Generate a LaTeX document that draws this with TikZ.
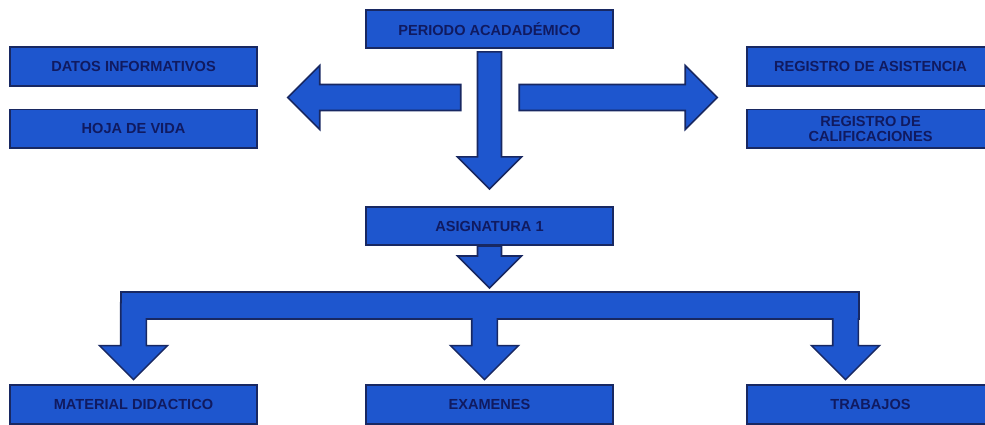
\documentclass[tikz,border=0pt]{standalone}
\usepackage{fontspec}
\setmainfont{Liberation Sans}
\usetikzlibrary{positioning, calc}
\definecolor{boxblue}{RGB}{30,86,206}
\definecolor{boxedge}{RGB}{24,40,98}
\definecolor{boxtext}{RGB}{16,26,96}
\tikzset{
    box/.style={ % blue boxes with dark border
        draw=boxedge, fill=boxblue, line width=0.9pt,
        minimum width=4.94cm, minimum height=0.77cm,
        inner sep=1pt, align=center, text=boxtext,
        font=\fontsize{8.3}{8.6}\selectfont\bfseries
    },
    blk/.style={fill=boxblue, draw=boxedge, line width=0.9pt}, % block arrows
    pics/blkarrow/.style args={#1/#2}{ % tip at origin, #1 length, #2 half shaft
        code={\path[blk] (0,0) -- (-32,-32) -- (-32,-#2) -- (-#1,-#2)
                 -- (-#1,#2) -- (-32,#2) -- (-32,32) -- cycle;}
    }
}

\begin{document}
\begin{tikzpicture}[x=0.02cm, y=-0.02cm]
        \useasboundingbox (0,0) rectangle (985,425);
        \clip (0,0) rectangle (985,425);
        % arriba
        \node[box]                          (per)   at (489.5,29)   {PERIODO ACADADÉMICO};
        \node[box]                          (datos) at (133.5,66.5) {DATOS INFORMATIVOS};
        \node[box, below=0.44cm of datos]   (hoja)                  {HOJA DE VIDA};
        \node[box]                          (regA)  at (870.5,66.5) {REGISTRO DE ASISTENCIA};
        \node[box, below=0.44cm of regA]    (regC)                  {REGISTRO DE\\CALIFICACIONES};
        % medio
        \node[box]                          (asig)  at (489.5,226)  {ASIGNATURA 1};
        % abajo
        \node[box]                          (mat)   at (133.5,404.5) {MATERIAL DIDACTICO};
        \node[box]                          (exa)   at (489.5,404.5) {EXAMENES};
        \node[box]                          (trab)  at (870.5,404.5) {TRABAJOS};

        % puntas de las flechas
        \coordinate (tipL) at ($(datos.east)!0.5!(hoja.east)+(30,0)$);
        \coordinate (tipR) at ($(regA.west)!0.5!(regC.west)+(-29,0)$);
        \coordinate (tipD) at ($(asig.north)+(0,-17)$);
        \coordinate (tipS) at ($(asig.south)+(0,42)$);
        \coordinate (tipM) at ($(mat.north)+(0,-6)$);
        \coordinate (tipE) at ($(exa.north)+(-5,-6)$);
        \coordinate (tipT) at ($(trab.north)+(-25,-6)$);

        \pic[rotate=180] (arrL) at (tipL) {blkarrow=173/13};
        \pic             (arrR) at (tipR) {blkarrow=198/13};
        \pic[rotate=-90] (arrD) at (tipD) {blkarrow=137/12};
        \pic[rotate=-90] (arrS) at (tipS) {blkarrow=42/12};

        % barra con tres flechas: primero el borde, luego el relleno
        \foreach \pass in {1,2} {
            \begin{scope}[blk/.style={draw=boxedge, line width=1.8pt}]
                \ifnum\pass=2
                    \tikzset{blk/.style={fill=boxblue}}
                \fi
                \path[blk] (122,293) rectangle (858,318);
                \pic[rotate=-90] at (tipM) {blkarrow=75/12};
                \pic[rotate=-90] at (tipE) {blkarrow=75/12};
                \pic[rotate=-90] at (tipT) {blkarrow=75/12};
            \end{scope}
        }
    \end{tikzpicture}
\end{document}
